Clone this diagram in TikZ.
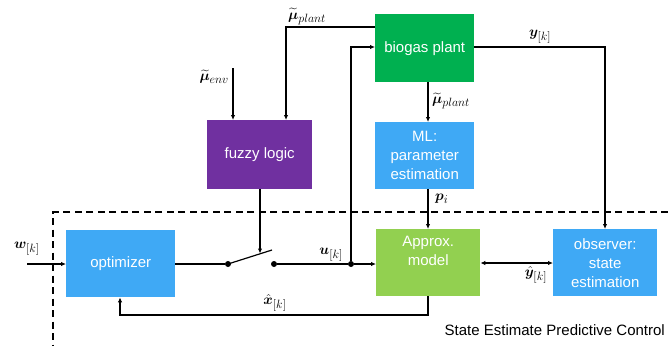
\documentclass[tikz,border=0pt]{standalone}
\usepackage{amsmath}
\usepackage{bm}
\usepackage{fontspec}
\setmainfont{Liberation Sans}
\DeclareMathSizes{15}{15}{12}{10}
\usetikzlibrary{arrows.meta}
\definecolor{bblue}{HTML}{3FA9F5}
\definecolor{bgreen}{HTML}{00B050}
\definecolor{lgreen}{HTML}{92D050}
\definecolor{bpurple}{HTML}{7030A0}
\begin{document}
\begin{tikzpicture}[x=1pt,y=-1pt,
  blk/.style={draw=none,minimum width=104pt,minimum height=67pt,anchor=north west,text=white,align=center,font=\fontsize{15}{19}\selectfont,inner sep=0pt},
  line/.style={line width=1.2pt},
  arr/.style={line width=1.2pt,-{Latex[length=5pt,width=4.5pt]}},
  dot/.style={circle,fill=black,inner sep=0pt,minimum size=6pt},
  lbl/.style={font=\fontsize{15}{18}\selectfont,inner sep=1pt}]
\useasboundingbox (0,0) rectangle (668,345);
\fill[white] (0,0) rectangle (668,345);
% blocks
\node[blk,fill=bgreen,minimum width=99pt,minimum height=68pt] (bio) at (375,14) {biogas plant};
\node[blk,fill=bblue,minimum width=99pt] (ml) at (375,122) {ML:\\parameter\\estimation};
\node[blk,fill=bpurple,minimum width=105pt,minimum height=69pt] (fuz) at (207,120) {fuzzy logic};
\node[blk,fill=bblue,minimum width=109pt] (opt) at (66,230) {optimizer};
\node[blk,fill=lgreen] (apx) at (376,229) {Approx.\\model\\[4pt]};
\node[blk,fill=bblue] (obs) at (553,229) {observer:\\state\\estimation};
% dashed region
\draw[line width=1.6pt,dash pattern=on 7pt off 4.5pt] (668,212) -- (53,212) -- (53,345);
% switch
\node[dot] (s1) at (228,264) {};
\node[dot] (s2) at (274,264) {};
\coordinate (bl) at (272,250);
\draw[line] (s1.center) -- (bl);
\node[dot] (j) at (351,264) {};
% inputs
\coordinate (win) at (27,264);
\draw[arr] (win) -- (opt.west |- win);
\node[lbl] (wl) at (27,249) {$\bm{w}_{[k]}$};
\draw[line] (opt.east |- s1) -- (s1);
\draw[line] (s2) -- (j);
\draw[arr] (j) -- (apx.west |- j);
\node[lbl,anchor=south east] (ul) at (344,263) {$\bm{u}_{[k]}$};
\coordinate (jt) at (351,47);
\draw[arr] (j) -- (jt) -- (bio.west |- jt);
% fuzzy
\coordinate (env) at (233,68);
\draw[arr] (env) -- (env |- fuz.north);
\node[lbl,anchor=east] (envl) at (230,77) {$\widetilde{\bm{\mu}}_{env}$};
\coordinate (fb) at (286,27);
\draw[arr] (bio.west |- fb) -- (fb) -- (fb |- fuz.north);
\node[lbl,anchor=south west] (pl1) at (287,26) {$\widetilde{\bm{\mu}}_{plant}$};
\coordinate (fo) at (260,253.5);
\draw[arr] (fo |- fuz.south) -- (fo);
% biogas -> ML -> approx
\draw[arr] (428,82) -- (428,122);
\node[lbl,anchor=west] (pl2) at (431,101) {$\widetilde{\bm{\mu}}_{plant}$};
\draw[arr] (428,189) -- (428,229);
\node[lbl,anchor=west] (pil) at (434,199) {$\bm{p}_i$};
% y
\coordinate (yc) at (605,47);
\draw[arr] (bio.east |- yc) -- (yc) -- (yc |- obs.north);
\node[lbl,anchor=south west] (yl) at (528,45) {$\bm{y}_{[k]}$};
% approx <-> observer
\draw[line width=1.2pt,{Latex[length=5pt,width=4.5pt]}-{Latex[length=5pt,width=4.5pt]}] (apx.east |- 0,263) -- (obs.west |- 0,263);
\node[lbl,anchor=north] (yhl) at (536,265) {$\hat{\bm{y}}_{[k]}$};
% xhat feedback
\coordinate (xa) at (428,315);
\coordinate (xb) at (120,315);
\draw[arr] (xa |- apx.south) -- (xa) -- (xb) -- (xb |- opt.south);
\node[lbl,anchor=south] (xl) at (275,313) {$\hat{\bm{x}}_{[k]}$};
\node[font=\fontsize{15}{18}\selectfont,anchor=east,inner sep=1pt] (tit) at (666,330) {State Estimate Predictive Control};
\end{tikzpicture}
\end{document}
